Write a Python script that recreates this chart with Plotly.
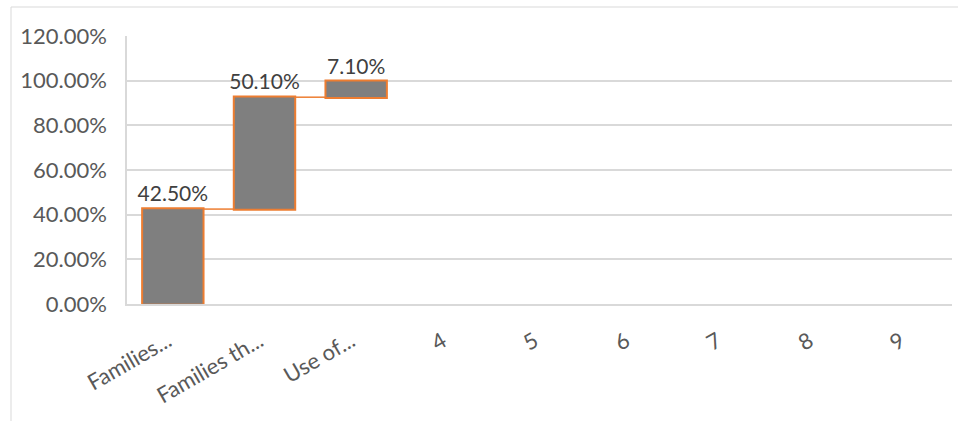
import plotly.graph_objects as go

# Waterfall steps (share of families, %)
steps = ["Families...", "Families th...", "Use of..."]
values = [42.5, 50.1, 7.1]
extra_categories = ["4", "5", "6", "7", "8", "9"]
y_ticks = [0, 20, 40, 60, 80, 100, 120]
y_tick_text = [f"{v:.2f}%" for v in y_ticks]

all_categories = steps + extra_categories

W, H = 958, 421
L, R, T, B = 127, 6, 36, 117
plot_w = W - L - R
plot_h = H - T - B

FONT = "Lato, Open Sans, sans-serif"

fig = go.Figure(
    go.Waterfall(
        x=steps,
        y=values,
        measure=["relative"] * len(values),
        text=[f"{v:.2f}%" for v in values],
        textposition="outside",
        constraintext="none",
        textfont=dict(family=FONT, size=21, color="#404040"),
        cliponaxis=False,
        increasing=dict(marker=dict(color="#7f7f7f", line=dict(color="#ED7D31", width=2))),
        decreasing=dict(marker=dict(color="#7f7f7f", line=dict(color="#ED7D31", width=2))),
        connector=dict(line=dict(color="#ED7D31", width=1.5), mode="between"),
        width=0.67,
        hoverinfo="skip",
    )
)

# light chart-area frame
def px_x(p):
    return (p - L) / plot_w

def px_y(p):
    return (H - B - p) / plot_h

fig.add_shape(
    type="rect", xref="paper", yref="paper",
    x0=px_x(11), x1=px_x(970), y0=px_y(440), y1=px_y(7),
    line=dict(color="#d9d9d9", width=1), layer="below",
)

fig.update_layout(
    width=W, height=H,
    margin=dict(l=L, r=R, t=T, b=B, pad=0),
    paper_bgcolor="white", plot_bgcolor="white",
    showlegend=False,
    font=dict(family=FONT, color="#595959"),
    xaxis=dict(
        type="category",
        categoryorder="array",
        categoryarray=all_categories,
        tickvals=all_categories,
        range=[-0.5, len(all_categories) - 0.5],
        tickangle=-30,
        tickfont=dict(size=22, color="#595959"),
        ticklabelshift=-5,
        showgrid=False,
        showline=True, linecolor="#d9d9d9", linewidth=2,
        ticks="outside", ticklen=14, tickcolor="rgba(0,0,0,0)",
    ),
    yaxis=dict(
        range=[0, 120],
        tickvals=y_ticks,
        ticktext=y_tick_text,
        tickfont=dict(size=22, color="#595959"),
        showgrid=True, gridcolor="#d9d9d9", gridwidth=1.5,
        showline=True, linecolor="#d9d9d9", linewidth=1.5,
        zeroline=False,
        ticks="outside", ticklen=14, tickcolor="rgba(0,0,0,0)",
    ),
)

fig.write_html("out.html")
